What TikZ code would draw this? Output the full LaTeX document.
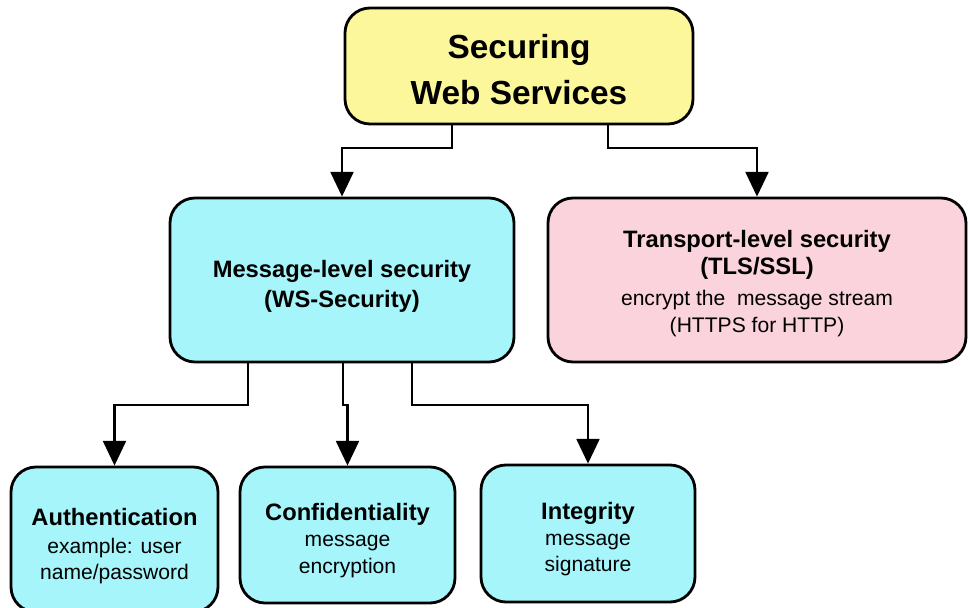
\documentclass[tikz,border=0pt]{standalone}
\usepackage{fontspec}
\setmainfont{Liberation Sans}
\usetikzlibrary{arrows.meta, positioning}
\definecolor{titlefill}{HTML}{FBF79A}
\definecolor{msgfill}{HTML}{A6F5FA}
\definecolor{tlsfill}{HTML}{FAD3DC}
\newcommand{\boxhead}[1]{{\fontsize{13.5}{16}\selectfont\bfseries #1}}
\newcommand{\topgap}[1]{\rule{0pt}{#1}}

\begin{document}
\begin{tikzpicture}[
    box/.style={draw=black, line width=1.6pt, rounded corners=0.5cm, align=center, inner sep=2pt},
    conn/.style={line width=1.3pt, -{Triangle[width=13pt,length=14pt]}},
    body/.style={font=\fontsize{12}{15}\selectfont},
  ]
  \useasboundingbox (0,0) rectangle (19.36,12.14);
  \clip (0,0) rectangle (19.36,12.14);

  % root and the two kinds of security
  \node[box, fill=titlefill, minimum width=6.96cm, minimum height=2.32cm,
        font=\fontsize{19}{26}\selectfont\bfseries] (top) at (10.38,10.82) {\topgap{17.5pt}Securing\\Web Services};
  \node[box, fill=msgfill, minimum width=6.88cm, minimum height=3.28cm,
        font=\fontsize{13.5}{17.5}\selectfont\bfseries] (msg) at (6.84,6.54) {\topgap{17pt}Message-level security\\(WS-Security)};
  \node[box, fill=tlsfill, minimum width=8.36cm, minimum height=3.28cm, body] (tls) at (15.14,6.54)
    {\topgap{14pt}\boxhead{Transport-level security}\\\boxhead{(TLS/SSL)}\\[3pt]encrypt the\ \ message stream\\(HTTPS for HTTP)};

  % ws-security services
  \node[box, fill=msgfill, minimum width=4.14cm, minimum height=2.9cm, body] (auth) at (2.29,1.35)
    {\topgap{17pt}\boxhead{Authentication}\\[1pt]example: user\\name/password};
  \node[box, fill=msgfill, minimum width=4.3cm, minimum height=2.72cm, body] (conf) at (6.95,1.44)
    {\topgap{16pt}\boxhead{Confidentiality}\\message\\encryption};
  \node[box, fill=msgfill, minimum width=4.28cm, minimum height=2.74cm, body] (integ) at (11.76,1.47)
    {\topgap{16pt}\boxhead{Integrity}\\message\\signature};

  \coordinate (a1) at (9.04,9.18);
  \coordinate (a2) at (12.16,9.18);
  \coordinate (b1) at (4.96,4.04);
  \coordinate (b2) at (6.86,4.04);
  \coordinate (b3) at (8.24,4.04);

  \draw[conn] (top.south -| a1) -- (a1) -| (msg.north);
  \draw[conn] (top.south -| a2) -- (a2) -| (tls.north);
  \draw[conn] (msg.south -| b1) -- (b1) -| (auth.north);
  \draw[conn] (msg.south -| b2) -- (b2) -| (conf.north);
  \draw[conn] (msg.south -| b3) -- (b3) -| (integ.north);
\end{tikzpicture}
\end{document}
